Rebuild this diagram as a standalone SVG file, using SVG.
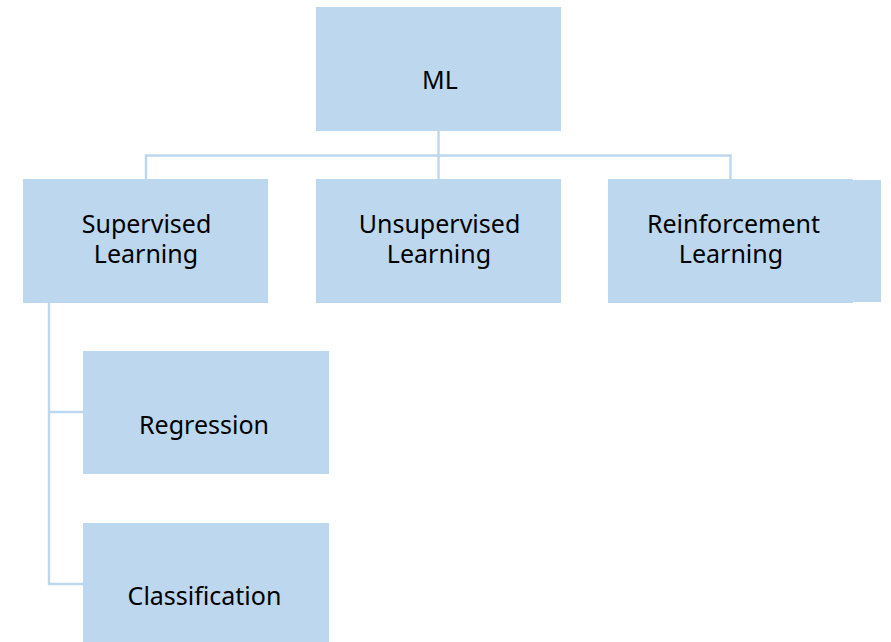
<svg xmlns="http://www.w3.org/2000/svg" width="891" height="642" viewBox="0 0 891 642">
  <style>
    .box { fill: #BDD7EE; }
    .lbl { font-family: "Noto Sans", "Open Sans", sans-serif; font-size: 25px; fill: #000; text-anchor: middle; }
    .conn { fill: none; stroke: #BDD7EE; stroke-width: 2.4; }
  </style>
  <rect width="891" height="642" fill="#ffffff"/>

  <!-- connectors -->
  <g id="connectors">
    <path class="conn" d="M438.5 131 V179"/>
    <path class="conn" d="M146 179 V155.5 H730.5 V179"/>
    <path class="conn" d="M49 303 V584 H83"/>
    <path class="conn" d="M49 412 H83"/>
  </g>

  <g id="ml">
    <rect class="box" x="316" y="7" width="245" height="124"/>
    <text class="lbl" x="440" y="89">ML</text>
  </g>

  <g id="supervised">
    <rect class="box" x="23" y="179" width="245" height="124"/>
    <text class="lbl" x="146.5" y="233">Supervised</text>
    <text class="lbl" x="146" y="263">Learning</text>
  </g>

  <g id="unsupervised">
    <rect class="box" x="316" y="179" width="245" height="124"/>
    <text class="lbl" x="439.5" y="233">Unsupervised</text>
    <text class="lbl" x="439" y="263">Learning</text>
  </g>

  <g id="reinforcement">
    <rect class="box" x="608" y="179" width="245" height="124"/>
    <rect class="box" x="852" y="180" width="29" height="122"/>
    <text class="lbl" x="733.5" y="233">Reinforcement</text>
    <text class="lbl" x="731" y="263">Learning</text>
  </g>

  <g id="regression">
    <rect class="box" x="83" y="351" width="246" height="123"/>
    <text class="lbl" x="204" y="434">Regression</text>
  </g>

  <g id="classification">
    <rect class="box" x="83" y="523" width="246" height="119"/>
    <text class="lbl" x="204.5" y="605">Classification</text>
  </g>
</svg>
